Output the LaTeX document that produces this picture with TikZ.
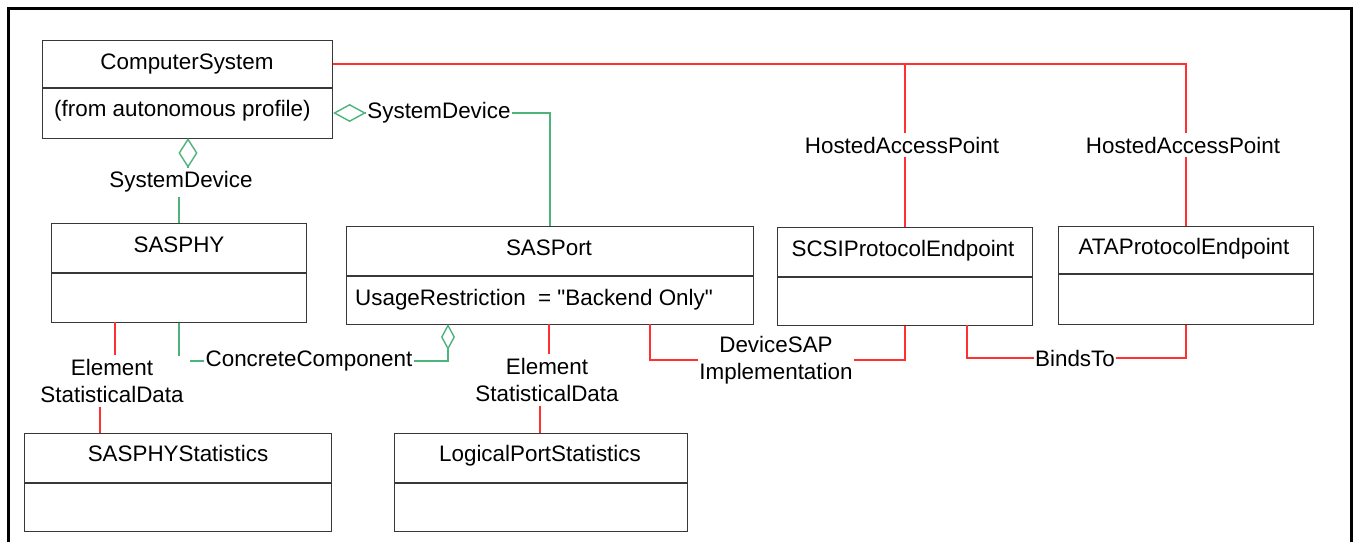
\documentclass[tikz,border=0pt]{standalone}
\usepackage{fontspec}
\setmainfont{Liberation Sans}
\usetikzlibrary{arrows.meta}
\definecolor{r1}{HTML}{FF3030}
\definecolor{g1}{HTML}{4DB37A}
\definecolor{k1}{HTML}{383838}
\tikzstyle{cls}=[draw=k1,line width=1.1pt,anchor=north west,inner sep=0pt]
\tikzstyle{dv}=[draw=k1,line width=1.1pt]
\tikzstyle{ttl}=[inner sep=0pt,anchor=base]
\tikzstyle{lbl}=[inner xsep=1pt,inner ysep=4pt,align=center]
\tikzstyle{assoc}=[draw=r1,line width=1.4pt]
\tikzstyle{aggr}=[draw=g1,line width=1.4pt]

\begin{document}
\begin{tikzpicture}[x=1pt,y=-1pt,font=\fontsize{22.4}{27}\selectfont]
  \useasboundingbox (0,0) rectangle (1353,542);
  \draw[line width=3pt] (8,542) -- (8,8) -- (1351,8) -- (1351,542);

  \node[cls,minimum width=290pt,minimum height=98pt] (cs) at (42,40) {};
  \node[cls,minimum width=255pt,minimum height=99pt] (sasphy) at (51,223) {};
  \node[cls,minimum width=407pt,minimum height=98pt] (sasport) at (346,226) {};
  \node[cls,minimum width=255pt,minimum height=98pt] (scsi) at (777,227) {};
  \node[cls,minimum width=255pt,minimum height=98pt] (ata) at (1058,226) {};
  \node[cls,minimum width=307pt,minimum height=98pt] (sps) at (24,433) {};
  \node[cls,minimum width=293pt,minimum height=98pt] (lps) at (394,433) {};

  \draw[dv] (cs.west |- 0,88) -- (cs.east |- 0,88);
  \draw[dv] (sasphy.west |- 0,273) -- (sasphy.east |- 0,273);
  \draw[dv] (sasport.west |- 0,276) -- (sasport.east |- 0,276);
  \draw[dv] (scsi.west |- 0,277) -- (scsi.east |- 0,277);
  \draw[dv] (ata.west |- 0,274) -- (ata.east |- 0,274);
  \draw[dv] (sps.west |- 0,483) -- (sps.east |- 0,483);
  \draw[dv] (lps.west |- 0,483) -- (lps.east |- 0,483);

  \node[ttl] (csT) at (187,69) {ComputerSystem};
  \node[ttl,anchor=base west] (csA) at (54,116) {(from autonomous profile)};
  \node[ttl] (sasphyT) at (179,252) {SASPHY};
  \node[ttl] (sasportT) at (549,255) {SASPort};
  \node[ttl,anchor=base west] (sasportA) at (355,305) {UsageRestriction\ \ = \textquotedbl Backend Only\textquotedbl};
  \node[ttl] (scsiT) at (903,256) {SCSIProtocolEndpoint};
  \node[ttl] (ataT) at (1184,254) {ATAProtocolEndpoint};
  \node[ttl] (spsT) at (178,461) {SASPHYStatistics};
  \node[ttl] (lpsT) at (540,461) {LogicalPortStatistics};

  \node[lbl] (hap1) at (902,145) {HostedAccessPoint};
  \node[lbl] (hap2) at (1183,145) {HostedAccessPoint};
  \node[lbl] (sd1) at (439,113) {SystemDevice};
  \node[lbl] (sd2) at (181,182) {SystemDevice};
  \node[lbl] (cc) at (309,361) {ConcreteComponent};
  \node[lbl] (esd1) at (112,381) {Element\\StatisticalData};
  \node[lbl] (esd2) at (547,380) {Element\\StatisticalData};
  \node[lbl] (dsi) at (776,360) {DeviceSAP\\Implementation};
  \node[lbl] (bt) at (1075,358) {BindsTo};

  \draw[assoc] (cs.east |- 0,64) -| (hap1.north -| scsi.north);
  \draw[assoc] (hap1.south -| scsi.north) -- (scsi.north);
  \draw[assoc] (cs.east |- 0,64) -| (hap2.north -| ata.north);
  \draw[assoc] (hap2.south -| ata.north) -- (ata.north);

  \draw[aggr,{Diamond[open,length=33pt,width=18pt]}-] (cs.east |- 0,113) -- (sd1.west);
  \draw[aggr] (sd1.east) -| (sasport.north);
  \draw[aggr,{Diamond[open,length=30pt,width=19pt]}-] (188,138) -- (188,0 |- sd2.north);
  \draw[aggr] (sasphy.north |- sd2.south) -- (sasphy.north);

  \draw[aggr] (sasphy.south) -- ++(0,33);
  \draw[aggr] (cc.west) -- ++(-14,0);
  \draw[aggr,{Diamond[open,length=26pt,width=14pt]}-] (448,324) |- (cc.east);

  \draw[assoc] (115,322) -- (115,0 |- esd1.north);
  \draw[assoc] (100,0 |- esd1.south) -- (sps.north -| 100,0);
  \draw[assoc] (549,324) -- (549,0 |- esd2.north);
  \draw[assoc] (540,0 |- esd2.south) -- (lps.north -| 540,0);

  \draw[assoc] (650,324) |- (dsi.west);
  \draw[assoc] (dsi.east) -| (scsi.south);
  \draw[assoc] (967,325) |- (bt.west);
  \draw[assoc] (bt.east) -| (ata.south);
\end{tikzpicture}
\end{document}
